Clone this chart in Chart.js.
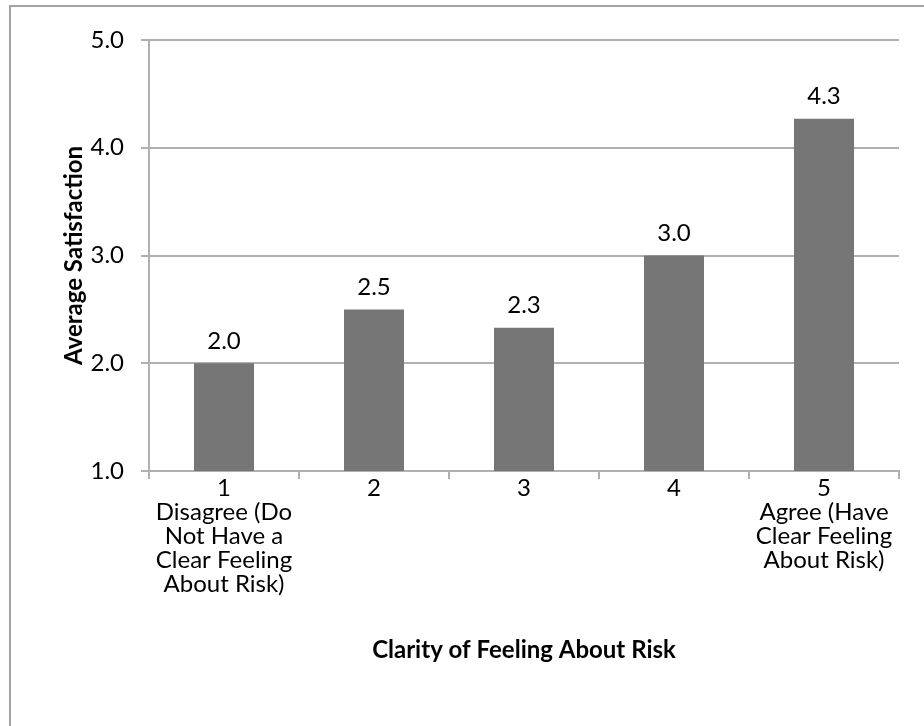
<!DOCTYPE html>
<html>
<head>
<meta charset="utf-8">
<script src="https://cdn.jsdelivr.net/npm/chart.js@4"></script>
<style>
  html, body { margin: 0; padding: 0; background: #fff; }
  #wrap { position: relative; width: 924px; height: 726px; overflow: hidden; }
  #frame { position: absolute; left: 9px; top: 5px; width: 940px; height: 760px;
           border-top: 2px solid #a3a3a3; border-left: 2px solid #a3a3a3; box-sizing: border-box; }
  canvas { position: absolute; left: 0; top: 0; }
</style>
</head>
<body>
<div id="wrap">
  <div id="frame"></div>
  <canvas id="c" width="924" height="726"></canvas>
</div>
<script>
// Survey answers on the clarity question, 1 = disagree ... 5 = agree
const categories = [
  ['1', 'Disagree (Do', 'Not Have a', 'Clear Feeling', 'About Risk)'],
  ['2'],
  ['3'],
  ['4'],
  ['5', 'Agree (Have', 'Clear Feeling', 'About Risk)']
];
// Mean satisfaction score for each answer group
const avgSatisfaction = [2.0, 2.5, 2.33, 3.0, 4.27];
const yTicks = [1, 2, 3, 4, 5];

const FONT = 'Lato, "Open Sans", sans-serif';
const GRID = '#b0b0b0';
const SIZE = 24;

// Value labels printed above each bar, one decimal place
const valueLabels = {
  id: 'valueLabels',
  afterDatasetsDraw(chart) {
    const ctx = chart.ctx;
    const meta = chart.getDatasetMeta(0);
    ctx.save();
    ctx.font = SIZE + 'px ' + FONT;
    ctx.fillStyle = '#000';
    ctx.textAlign = 'center';
    ctx.textBaseline = 'middle';
    meta.data.forEach((bar, i) => {
      ctx.fillText(avgSatisfaction[i].toFixed(1), bar.x, bar.y - 22);
    });
    ctx.restore();
  }
};

new Chart(document.getElementById('c'), {
  type: 'bar',
  data: {
    labels: categories,
    datasets: [{
      data: avgSatisfaction,
      backgroundColor: '#767676',
      borderWidth: 0,
      categoryPercentage: 1.0,
      barPercentage: 0.4
    }]
  },
  options: {
    responsive: false,
    animation: false,
    devicePixelRatio: 1,
    layout: { padding: { left: 0, right: 25, top: 40, bottom: 0 } },
    plugins: { legend: { display: false }, tooltip: { enabled: false } },
    scales: {
      x: {
        grid: { display: true, drawOnChartArea: false, drawTicks: true, tickLength: 8, color: GRID, lineWidth: 2, offset: true },
        border: { color: GRID, width: 2 },
        ticks: { color: '#000', font: { family: FONT, size: SIZE, lineHeight: 1.0 }, padding: -3, maxRotation: 0, autoSkip: false },
        title: { display: true, text: 'Clarity of Feeling About Risk', color: '#000',
                 font: { family: FONT, size: SIZE, weight: 'bold', lineHeight: 1.0 }, padding: { top: 0, bottom: 64 } },
        afterFit(scale) { scale.height = 726 - 471; }
      },
      y: {
        min: 1, max: 5,
        afterBuildTicks(scale) { scale.ticks = yTicks.map(v => ({ value: v })); },
        grid: { color: GRID, lineWidth: 2, tickLength: 8, drawTicks: true },
        border: { color: GRID, width: 2 },
        ticks: { color: '#000', font: { family: FONT, size: SIZE }, padding: 17, callback: v => Number(v).toFixed(1) },
        title: { display: true, text: 'Average Satisfaction', color: '#000',
                 font: { family: FONT, size: SIZE, weight: 'bold', lineHeight: 1.0 }, padding: { top: 62, bottom: 0 } },
        afterFit(scale) { scale.width = 149; }
      }
    }
  },
  plugins: [valueLabels]
});
</script>
</body>
</html>
